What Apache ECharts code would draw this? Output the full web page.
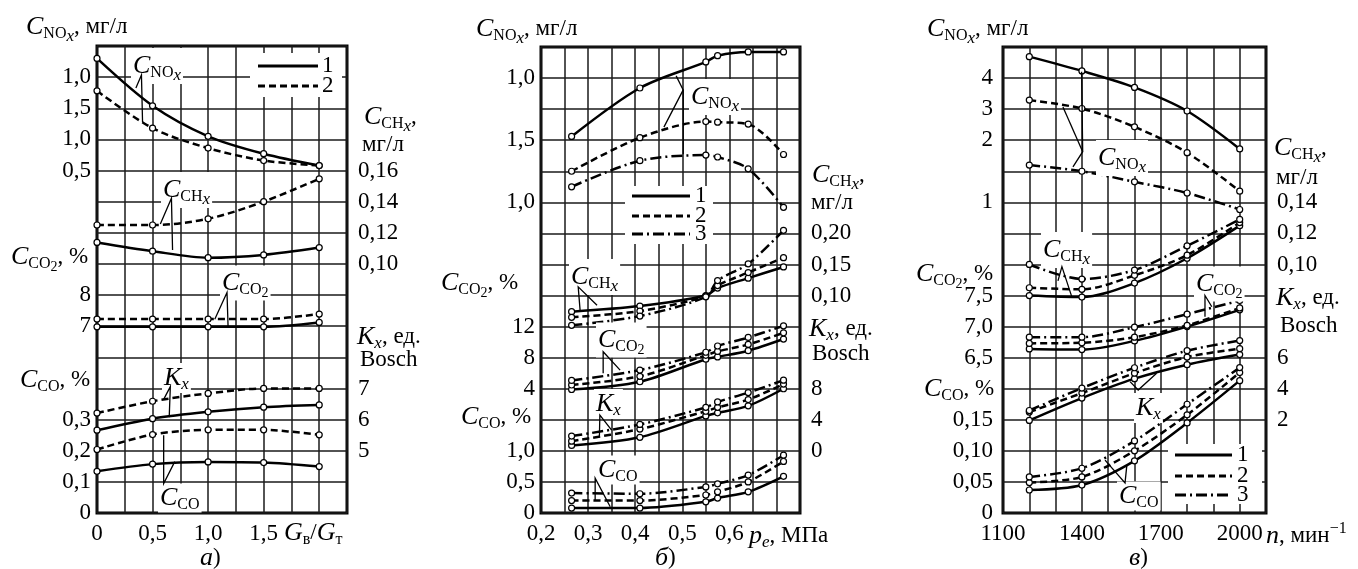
<!DOCTYPE html>
<html><head><meta charset="utf-8">
<script src="https://cdn.jsdelivr.net/npm/echarts/dist/echarts.min.js"></script>
<style>html,body{margin:0;padding:0;background:#fff}#c{width:1358px;height:569px}</style>
</head><body><div id="c"></div><script>
// ---------- DATA ----------
// panel а: x = Gв/Gт
const xA = [0, 0.5, 1.0, 1.5, 2.0];
const noxA1 = [2.30, 1.54, 1.05, 0.77, 0.58];
const noxA2 = [1.78, 1.18, 0.86, 0.66, 0.58];
const chxA1 = [0.1138, 0.1082, 0.1040, 0.1058, 0.1105];
const chxA2 = [0.125, 0.125, 0.129, 0.140, 0.1547];
const co2A1 = [6.98, 6.98, 6.98, 6.98, 7.12];
const co2A2 = [7.23, 7.23, 7.23, 7.23, 7.39];
const kxA1 = [5.66, 6.03, 6.25, 6.40, 6.47];
const kxA2 = [6.21, 6.59, 6.84, 7.00, 7.00];
const coA1 = [0.134, 0.157, 0.164, 0.162, 0.149];
const coA2 = [0.204, 0.252, 0.267, 0.267, 0.251];
// panel б: x = pe, МПа
const xB = [0.265, 0.41, 0.55, 0.575, 0.64, 0.715];
const noxB1 = [1.53, 1.92, 2.13, 2.18, 2.21, 2.21];
const noxB2 = [1.25, 1.52, 1.65, 1.645, 1.63, 1.385];
const noxB3 = [1.125, 1.335, 1.38, 1.365, 1.27, 0.96];
const chxB1 = [0.074, 0.083, 0.100, 0.112, 0.128, 0.146];
const chxB2 = [0.065, 0.075, 0.099, 0.116, 0.137, 0.161];
const chxB3 = [0.052, 0.067, 0.098, 0.124, 0.151, 0.205];
const co2B1 = [3.9, 4.9, 7.8, 8.1, 8.9, 10.4];
const co2B2 = [4.48, 5.6, 8.3, 8.8, 9.7, 11.2];
const co2B3 = [5.07, 6.4, 8.7, 9.5, 10.6, 12.1];
const kxB1 = [0.7, 1.75, 4.5, 4.9, 5.8, 8.0];
const kxB2 = [1.25, 2.8, 5.1, 5.6, 6.6, 8.6];
const kxB3 = [1.9, 3.4, 5.6, 6.3, 7.5, 9.1];
const coB1 = [0.08, 0.08, 0.18, 0.24, 0.34, 0.59];
const coB2 = [0.20, 0.20, 0.29, 0.34, 0.50, 0.83];
const coB3 = [0.32, 0.31, 0.42, 0.47, 0.61, 0.93];
// panel в: x = n, мин-1
const xC = [1200, 1400, 1600, 1800, 2000];
const noxC1 = [4.69, 4.23, 3.70, 2.94, 1.86];
const noxC2 = [3.29, 3.02, 2.43, 1.80, 1.18];
const noxC3 = [1.60, 1.50, 1.33, 1.15, 0.885];
const chxC1 = [0.080, 0.079, 0.088, 0.104, 0.125];
const chxC2 = [0.085, 0.084, 0.093, 0.106, 0.127];
const chxC3 = [0.100, 0.0906, 0.0964, 0.112, 0.129];
const co2C1 = [6.64, 6.63, 6.77, 7.00, 7.27];
const co2C2 = [6.73, 6.74, 6.83, 7.02, 7.30];
const co2C3 = [6.83, 6.83, 6.99, 7.20, 7.42];
const kxC1 = [1.96, 3.40, 4.65, 5.55, 6.20];
const kxC2 = [2.50, 3.72, 5.00, 6.04, 6.58];
const kxC3 = [2.60, 4.04, 5.35, 6.45, 7.10];
const coC1 = [0.037, 0.045, 0.084, 0.145, 0.213];
const coC2 = [0.049, 0.058, 0.100, 0.158, 0.226];
const coC3 = [0.058, 0.072, 0.116, 0.175, 0.234];

// tick labels (by grid row, 0..15)
const leftTicksA  = ['0','0,1','0,2','0,3','','','7','8','','','','0,5','1,0','1,5','1,0',''];
const rightTicksA = ['','','5','6','7','','','','0,10','0,12','0,14','0,16','','','',''];
const leftTicksB  = ['0','0,5','1,0','','4','8','12','','','','1,0','','1,5','','1,0',''];
const rightTicksB = ['','','0','4','8','','','0,10','0,15','0,20','','','','','',''];
const leftTicksC  = ['0','0,05','0,10','0,15','','6,5','7,0','7,5','','','1','','2','3','4',''];
const rightTicksC = ['','','','2','4','6','','','0,10','0,12','0,14','','','','',''];
const xTicksA = [[0,'0'],[0.5,'0,5'],[1,'1,0'],[1.5,'1,5']];
const xTicksB = [[0.2,'0,2'],[0.3,'0,3'],[0.4,'0,4'],[0.5,'0,5'],[0.6,'0,6']];
const xTicksC = [[1100,'1100'],[1400,'1400'],[1700,'1700'],[2000,'2000']];

// ---------- scales: value -> grid row (from the tick labels) ----------
const SC = [
  {nox:[[0.5,11],[2.0,14]], chx:[[0.10,8],[0.16,11]], co2:[[7,6],[8,7]], kx:[[5,2],[7,4]], co:[[0,0],[0.3,3]]},
  {nox:[[1.0,10],[2.0,14]], chx:[[0.10,7],[0.20,9]], co2:[[4,4],[12,6]], kx:[[0,2],[8,4]], co:[[0,0],[1.0,2]]},
  {nox:[[1,10],[2,12],[3,13],[4,14]], chx:[[0.10,8],[0.14,10]], co2:[[6.5,5],[7.5,7]], kx:[[2,3],[6,5]], co:[[0,0],[0.15,3]]}
];
function toRow(v, a) {
  let i = 0;
  while (i < a.length - 2 && v > a[i+1][0]) i++;
  const [v0,r0] = a[i], [v1,r1] = a[i+1];
  return r0 + (v - v0) * (r1 - r0) / (v1 - v0);
}

const FONT = "'Liberation Serif','DejaVu Serif','Times New Roman',serif";
const DASH = {1:'solid', 2:[7,4], 3:[11,4,2,4]};
const TICK = 23;

const gridsPos = [
  {left:97, top:46, width:250, height:467},
  {left:541, top:47, width:259, height:466},
  {left:1003, top:47, width:263, height:466}
];
const xRange = [{min:0,max:2.25,interval:0.25,t:xTicksA},{min:0.2,max:0.75,interval:0.05,t:xTicksB},{min:1100,max:2100,interval:100,t:xTicksC}];
const yTicks = [[leftTicksA,rightTicksA],[leftTicksB,rightTicksB],[leftTicksC,rightTicksC]];

const grid = gridsPos.map(p => Object.assign({show:true, borderColor:'#000', borderWidth:3, backgroundColor:'#fff'}, p));
const xAxis = xRange.map((r,g) => ({
  gridIndex:g, type:'value', min:r.min, max:r.max, interval:r.interval,
  axisLine:{show:false}, axisTick:{show:false},
  splitLine:{show:true, lineStyle:{color:'#1a1a1a', width:1.5}},
  axisLabel:{showMinLabel:true, showMaxLabel:true, margin:9, color:'#000', fontFamily:FONT, fontSize:TICK,
    formatter: v => { const f = r.t.find(t => Math.abs(t[0]-v) < 1e-6); return f ? f[1] : ''; }}
}));
const yAxis = [];
yTicks.forEach((tk,g) => {
  [0,1].forEach(side => yAxis.push({
    gridIndex:g, type:'value', min:0, max:15, interval:1, position: side ? 'right' : 'left',
    axisLine:{show:false}, axisTick:{show:false},
    splitLine:{show: side===0, lineStyle:{color:'#1a1a1a', width:1.5}},
    axisLabel:{showMinLabel:true, showMaxLabel:true, margin: side ? 11 : (g===2 ? 10 : 6), color:'#000', fontFamily:FONT, fontSize:TICK,
      formatter: v => tk[side][Math.round(v)] || ''}
  }));
});

function S(g, xs, vals, key, st) {
  return {type:'line', xAxisIndex:g, yAxisIndex:2*g,
    data: xs.map((x,i) => [x, toRow(vals[i], SC[g][key])]),
    smooth:0.3, symbol:'circle', symbolSize:6, showSymbol:true,
    itemStyle:{color:'#fff', borderColor:'#000', borderWidth:1.2},
    lineStyle:{color:'#000', width:2.5, type:DASH[st]},
    emphasis:{disabled:true}, silent:true, z:3};
}
const series = [
  S(0,xA,noxA1,'nox',1), S(0,xA,noxA2,'nox',2),
  S(0,xA,chxA1,'chx',1), S(0,xA,chxA2,'chx',2),
  S(0,xA,co2A1,'co2',1), S(0,xA,co2A2,'co2',2),
  S(0,xA,kxA1,'kx',1),  S(0,xA,kxA2,'kx',2),
  S(0,xA,coA1,'co',1),  S(0,xA,coA2,'co',2),
  S(1,xB,noxB1,'nox',1), S(1,xB,noxB2,'nox',2), S(1,xB,noxB3,'nox',3),
  S(1,xB,chxB1,'chx',1), S(1,xB,chxB2,'chx',2), S(1,xB,chxB3,'chx',3),
  S(1,xB,co2B1,'co2',1), S(1,xB,co2B2,'co2',2), S(1,xB,co2B3,'co2',3),
  S(1,xB,kxB1,'kx',1),  S(1,xB,kxB2,'kx',2),  S(1,xB,kxB3,'kx',3),
  S(1,xB,coB1,'co',1),  S(1,xB,coB2,'co',2),  S(1,xB,coB3,'co',3),
  S(2,xC,noxC1,'nox',1), S(2,xC,noxC2,'nox',2), S(2,xC,noxC3,'nox',3),
  S(2,xC,chxC1,'chx',1), S(2,xC,chxC2,'chx',2), S(2,xC,chxC3,'chx',3),
  S(2,xC,co2C1,'co2',1), S(2,xC,co2C2,'co2',2), S(2,xC,co2C3,'co2',3),
  S(2,xC,kxC1,'kx',1),  S(2,xC,kxC2,'kx',2),  S(2,xC,kxC3,'kx',3),
  S(2,xC,coC1,'co',1),  S(2,xC,coC2,'co',2),  S(2,xC,coC3,'co',3)
];

const chart = echarts.init(document.getElementById('c'), null, {renderer:'canvas'});
chart.setOption({animation:false, backgroundColor:'#fff', grid, xAxis, yAxis, series});

// ---------- text & annotations ----------
const RICH = {
  i:{fontStyle:'italic', fontSize:26, fontFamily:FONT},
  n:{fontSize:23, fontFamily:FONT},
  s:{fontSize:16, fontFamily:FONT, padding:[13,0,0,0]},
  si:{fontSize:17, fontStyle:'italic', fontFamily:FONT, padding:[13,0,0,0]},
  ss:{fontSize:14, fontFamily:FONT, padding:[21,0,0,0]},
  ssi:{fontSize:17, fontStyle:'italic', fontFamily:FONT, padding:[19,0,0,0]},
  sup:{fontSize:16, fontFamily:FONT, padding:[0,0,14,0]}
};
const NOX = '{i|C}{s|NO}{ssi|x}', CHX = '{i|C}{s|CH}{ssi|x}', CO2 = '{i|C}{s|CO}{ss|2}', CO = '{i|C}{s|CO}', KX = '{i|K}{si|x}';
function T(x, y, text, bg) {
  const st = {text, rich:RICH, fontFamily:FONT, fontSize:23, fill:'#000', align:'left', verticalAlign:'middle', textAlign:'left', textVerticalAlign:'middle'};
  if (bg) { st.backgroundColor = '#fff'; st.padding = [0,2,0,2]; }
  return {type:'text', x, y, z:100, silent:true, style:st};
}
const texts = [
  // panel а
  T(26,27,NOX+'{n|, мг/л}'), T(364,117,CHX+'{n|,}'), T(362,145,'{n|мг/л}'),
  T(11,257,CO2+'{n|, %}'), T(357,337,KX+'{n|, ед.}'), T(360,360,'{n|Bosch}'), T(20,380,CO+'{n|, %}'),
  T(284,533,'{i|G}{s|в}{n|/}{i|G}{s|т}'), T(200,558,'{i|а}{n|)}'),
  T(131,66,NOX,true), T(161,190,CHX,true), T(220,283,CO2,true), T(162,378,KX,true), T(158,498,CO,true),
  // panel б
  T(476,29,NOX+'{n|, мг/л}'), T(812,175,CHX+'{n|,}'), T(811,203,'{n|мг/л}'),
  T(441,283,CO2+'{n|, %}'), T(809,329,KX+'{n|, ед.}'), T(812,354,'{n|Bosch}'), T(461,417,CO+'{n|, %}'),
  T(749,536,'{i|p}{si|e}{n|, МПа}'), T(655,558,'{i|б}{n|)}'),
  T(689,97,NOX,true), T(569,277,CHX,true), T(596,340,CO2,true), T(594,404,KX,true), T(596,470,CO,true),
  // panel в
  T(927,29,NOX+'{n|, мг/л}'), T(1274,148,CHX+'{n|,}'), T(1276,178,'{n|мг/л}'),
  T(916,274,CO2+'{n|, %}'), T(1276,298,KX+'{n|, ед.}'), T(1280,326,'{n|Bosch}'), T(924,389,CO+'{n|, %}'),
  T(1266,536,'{i|n}{n|, мин}{sup|−1}'), T(1129,558,'{i|в}{n|)}'),
  T(1096,158,NOX,true), T(1041,250,CHX,true), T(1194,284,CO2,true), T(1134,408,KX,true), T(1117,496,CO,true)
];

// leader lines in data coordinates [x, row]
const leaders = [
  {g:0, p:[[0.35,13.65],[0.40,14.07],[0.41,12.55]]},
  {g:0, p:[[0.57,9.28],[0.67,10.11],[0.68,8.45]]},
  {g:0, p:[[1.06,6.22],[1.17,7.08],[1.18,5.95]]},
  {g:0, p:[[0.60,3.65],[0.66,4.06],[0.65,3.08]]},
  {g:0, p:[[0.60,2.5],[0.60,0.95],[0.70,1.65]]},
  {g:1, p:[[0.487,14.07],[0.502,13.62],[0.461,12.42]]},
  {g:1, p:[[0.502,13.62],[0.502,11.55]]},
  {g:1, p:[[0.283,6.53],[0.279,7.28],[0.319,6.69]]},
  {g:1, p:[[0.332,4.5],[0.332,5.19],[0.368,4.6]]},
  {g:1, p:[[0.324,2.46],[0.325,3.15],[0.35,2.67]]},
  {g:1, p:[[0.315,0.42],[0.315,1.12],[0.347,0.2]]},
  {g:2, p:[[1399,14.2],[1403,11.63],[1366,11.14]]},
  {g:2, p:[[1328,13.07],[1403,11.63]]},
  {g:2, p:[[1309,7.47],[1324,7.93],[1362,6.95]]},
  {g:2, p:[[1868,6.32],[1868,7.0],[1894,6.64]]},
  {g:2, p:[[1583,4.23],[1614,3.96],[1684,4.5]]},
  {g:2, p:[[1488,1.7],[1564,0.97],[1571,1.55]]}
];
const lines = leaders.map(L => ({type:'polyline', z:101, silent:true,
  shape:{points: L.p.map(q => chart.convertToPixel({xAxisIndex:L.g, yAxisIndex:2*L.g}, q))},
  style:{stroke:'#000', lineWidth:1.3, fill:null}}));

// legends
function legend(x0, y0, w, h, lx1, lx2, ys, styles, nx) {
  const out = [{type:'rect', z:99, silent:true, shape:{x:x0, y:y0, width:w, height:h}, style:{fill:'#fff'}}];
  ys.forEach((y,i) => {
    out.push({type:'line', z:100, silent:true, shape:{x1:lx1, y1:y, x2:lx2, y2:y},
      style:{stroke:'#000', lineWidth:3, lineDash: styles[i]===1 ? null : DASH[styles[i]]}});
    out.push(T(nx, y, '{n|' + styles[i] + '}'));
  });
  return out;
}
const legs = [].concat(
  legend(250, 53, 92, 44, 258, 318, [66, 86], [1,2], 322),
  legend(625, 186, 88, 58, 632, 690, [196, 216, 234], [1,2,3], 695),
  legend(1168, 444, 94, 60, 1175, 1232, [455, 476, 495], [1,2,3], 1237)
);

chart.setOption({graphic: legs.concat(lines, texts)});
</script></body></html>
